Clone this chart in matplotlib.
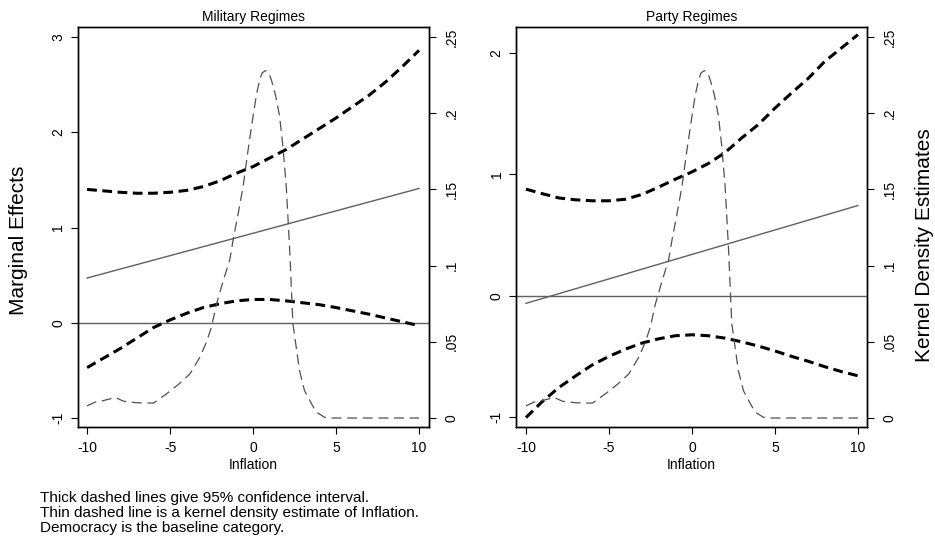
import numpy as np
import matplotlib
matplotlib.use('Agg')
import matplotlib.pyplot as plt

plt.rcParams['font.family'] = ['Liberation Sans', 'DejaVu Sans']

# kernel density of inflation (same in both panels)
dens_x = [-10, -9.5, -9, -8.3, -7.8, -7, -6, -5.2, -4.5, -3.8, -3.2, -2.8, -2.5, -2.2,
          -1.8, -1.4, -1.2, -0.9, -0.6, -0.3, 0.0, 0.2, 0.4, 0.55, 0.75, 0.95, 1.1, 1.35,
          1.6, 1.8, 2.0, 2.2, 2.4, 2.8, 3.1, 3.4, 3.8, 4.3, 4.6, 10]
dens_y = [0.008, 0.0105, 0.0115, 0.0135, 0.011, 0.010, 0.0098, 0.016, 0.022, 0.029,
          0.040, 0.050, 0.060, 0.075, 0.090, 0.104, 0.117, 0.134, 0.152, 0.176, 0.198,
          0.212, 0.222, 0.2265, 0.228, 0.2265, 0.222, 0.212, 0.198, 0.178, 0.152, 0.112,
          0.062, 0.031, 0.018, 0.0118, 0.004, 0.0005, 0.0, 0.0]

infl = [-10, -9, -8, -7, -6, -5, -4, -3, -2, -1, 0, 1, 2, 3, 4, 5, 6, 7, 8, 9, 10]

# Military regimes
mil_x = [-10, 10]
mil_me = [0.47, 1.41]
mil_up = [1.40, 1.385, 1.37, 1.36, 1.36, 1.37, 1.39, 1.43, 1.49, 1.57, 1.64, 1.73, 1.82,
          1.93, 2.04, 2.15, 2.27, 2.39, 2.53, 2.69, 2.86]
mil_lo = [-0.47, -0.37, -0.27, -0.16, -0.05, 0.03, 0.10, 0.16, 0.20, 0.23, 0.245, 0.245,
          0.23, 0.21, 0.19, 0.16, 0.125, 0.09, 0.05, 0.01, -0.03]

# Party regimes
par_x = [-10, 10]
par_me = [-0.063, 0.743]
par_up = [0.878, 0.84, 0.805, 0.79, 0.782, 0.782, 0.795, 0.835, 0.895, 0.96, 1.02, 1.09,
          1.18, 1.30, 1.41, 1.545, 1.67, 1.79, 1.93, 2.04, 2.151]
par_lo = [-1.004, -0.87, -0.755, -0.66, -0.57, -0.50, -0.44, -0.39, -0.355, -0.33, -0.322,
          -0.33, -0.35, -0.38, -0.415, -0.455, -0.50, -0.54, -0.585, -0.625, -0.66]

fig = plt.figure(figsize=(9.35, 5.38), dpi=100)

def panel(rect, title, me_x, me, up, lo, yticks, ylim, xlim):
    ax = fig.add_axes(rect)
    ax.axhline(0, color='#606060', lw=1.0)
    ax.plot(me_x, me, color='#606060', lw=1.0)
    ax.plot(infl, up, color='black', lw=2.2, dashes=(3.2, 1.8))
    ax.plot(infl, lo, color='black', lw=2.2, dashes=(3.2, 1.8))
    ax.set_xlim(*xlim)
    ax.set_ylim(*ylim)
    ax.set_xticks([-10, -5, 0, 5, 10])
    ax.set_xticklabels(['-10', '-5', '0', '5', '10'])
    ax.set_yticks(yticks)
    ax.set_yticklabels([str(t) for t in yticks], rotation=90, va='center')
    ax.tick_params(labelsize=10, length=5, width=0.8, direction='out')
    ax.tick_params(axis='x', pad=5)
    ax.tick_params(axis='y', pad=4)
    ax.set_xlabel('Inflation', fontsize=10, labelpad=2)
    ax.set_title(title, fontsize=10, pad=4)
    ax2 = ax.twinx()
    ax2.plot(dens_x, dens_y, color='#505050', lw=0.9, dashes=(8, 4.5))
    ax2.set_ylim(-0.0059, 0.2566)
    ax2.set_yticks([0, 0.05, 0.1, 0.15, 0.2, 0.25])
    ax2.set_yticklabels(['0', '.05', '.1', '.15', '.2', '.25'], rotation=90, va='center')
    ax2.tick_params(labelsize=10, length=5, width=0.8, direction='out', pad=6)
    for a in (ax, ax2):
        for s in a.spines.values():
            s.set_linewidth(1.0)
    return ax, ax2

axL, axL2 = panel([0.0834, 0.2063, 0.3754, 0.7435], 'Military Regimes',
                  mil_x, mil_me, mil_up, mil_lo,
                  [-1, 0, 1, 2, 3], (-1.094, 3.105), (-10.55, 10.6))
axR, axR2 = panel([0.5519, 0.2063, 0.3754, 0.7435], 'Party Regimes',
                  par_x, par_me, par_up, par_lo,
                  [-1, 0, 1, 2], (-1.082, 2.214), (-10.6, 10.55))

fig.text(0.020, 1 - 240 / 538, 'Marginal Effects', rotation=90, ha='center', va='center', fontsize=15)
fig.text(0.989, 1 - 245 / 538, 'Kernel Density Estimates', rotation=90, ha='center', va='center', fontsize=15)

notes = ['Thick dashed lines give 95% confidence interval.',
         'Thin dashed line is a kernel density estimate of Inflation.',
         'Democracy is the baseline category.']
for i, t in enumerate(notes):
    fig.text(40 / 935, 1 - (498 + 15 * i) / 538, t, fontsize=11, va='center', ha='left')

fig.savefig('out.png', dpi=100)
